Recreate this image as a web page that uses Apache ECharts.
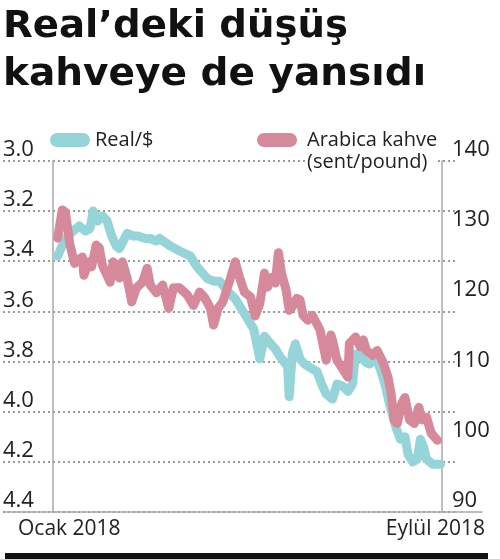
<!DOCTYPE html>
<html>
<head>
<meta charset="utf-8">
<script src="https://cdn.jsdelivr.net/npm/echarts@6/dist/echarts.min.js"></script>
<style>
html,body{margin:0;padding:0;background:#fff;}
#c{width:500px;height:559px;}
</style>
</head>
<body>
<div id="c"></div>
<script>
// Day offsets from 1 Jan 2018 and values
var realDays = [3,8,13,17,21,24,26,29,32,35,38,41,43,48,52,55,60,63,67,69,76,82,89,93,100,104,108,113,118,121,124,128,130,132,134,137,141,144,147,152,153,155,157,160,163,168,171,174,177,181,184,188,191,194,196,199,202,205,209,212,215,218,222,225,228,230,233,236,238,240,242,246,249,251];
var realVals = [3.38,3.31,3.28,3.26,3.28,3.27,3.20,3.24,3.22,3.24,3.30,3.34,3.35,3.29,3.30,3.30,3.31,3.31,3.32,3.31,3.34,3.36,3.38,3.42,3.47,3.48,3.48,3.52,3.55,3.58,3.61,3.65,3.67,3.73,3.79,3.70,3.73,3.75,3.78,3.82,3.94,3.77,3.73,3.79,3.81,3.83,3.84,3.89,3.93,3.95,3.89,3.90,3.92,3.89,3.77,3.77,3.80,3.81,3.79,3.83,3.89,3.97,4.06,4.11,4.10,4.17,4.20,4.19,4.11,4.14,4.19,4.21,4.21,4.21];
var coffeeDays = [3,6,8,11,14,19,20,23,25,28,30,32,37,39,41,43,45,48,51,54,58,61,63,67,71,75,78,82,87,91,95,98,102,104,107,110,115,118,121,124,128,131,134,137,139,142,144,146,148,151,153,155,158,160,162,165,168,173,177,180,181,184,187,191,192,196,199,201,203,207,210,214,217,219,221,223,226,228,231,234,237,239,242,245,249];
var coffeeVals = [129.0,133.0,132.7,128.0,125.4,126.3,123.7,125.6,124.9,128.0,127.6,125.1,122.7,125.6,125.1,123.3,125.6,123.3,119.9,121.9,122.7,124.7,122.3,121.2,122.3,119.0,121.9,121.9,120.9,119.4,121.3,120.6,119.0,116.6,119.0,119.9,123.3,125.6,123.3,121.3,120.6,117.9,119.7,124.0,122.0,123.4,122.6,126.9,124.0,121.6,118.7,119.2,120.4,120.2,118.0,117.3,118.0,115.9,111.6,115.2,114.5,111.6,110.6,109.2,114.0,114.9,113.5,114.5,113.0,112.3,113.0,111.2,109.2,106.9,103.1,102.6,105.5,106.3,103.1,102.6,104.9,103.1,103.5,101.2,100.2];
var leftTicks = {min: 3.0, max: 4.4, interval: 0.2};
var rightTicks = {min: 90, max: 140, interval: 10};
var periodLength = 252;
var titleLines = ['Real’deki düşüş', 'kahveye de yansıdı'];
var xLabels = ['Ocak 2018', 'Eylül 2018'];
var seriesNames = ['Real/$', 'Arabica kahve'];
var unitNote = '(sent/pound)';

var TEAL = '#95d4d9';
var PINK = '#d6899a';
var FONT = 'Open Sans';
var pill = 'path://M7,0 L33,0 A7,7 0 0 1 33,14 L7,14 A7,7 0 0 1 7,0 Z';

function zip(a, b) { return a.map(function (d, i) { return [d, b[i]]; }); }

var chart = echarts.init(document.getElementById('c'), null, {renderer: 'canvas'});
var top0 = 160.7, bot0 = 47;
chart.setOption({
  animation: false,
  backgroundColor: '#fff',
  grid: [
    {left: 53, right: 58, top: top0, bottom: bot0},   // data
    {left: 3, right: 45, top: top0, bottom: bot0},    // dotted gridlines
    {left: 5, right: 18, top: top0, bottom: bot0}     // baseline
  ],
  xAxis: [
    {gridIndex: 0, type: 'value', min: 0, max: periodLength, show: false},
    {gridIndex: 1, type: 'value', min: 0, max: 1, show: false},
    {gridIndex: 2, type: 'value', min: 0, max: 1, axisLine: {show: true, lineStyle: {color: '#a8a8a8', width: 1.5}},
      axisTick: {show: false}, axisLabel: {show: false}, splitLine: {show: false}}
  ],
  yAxis: [
    {gridIndex: 0, type: 'value', inverse: true, min: leftTicks.min, max: leftTicks.max, interval: leftTicks.interval,
      position: 'left',
      axisLine: {show: true, lineStyle: {color: '#a8a8a8', width: 1.5}},
      axisTick: {show: false}, splitLine: {show: false},
      axisLabel: {align: 'left', margin: 50, verticalAlign: 'bottom', color: '#222', fontSize: 22, fontFamily: FONT,
        lineHeight: 22, formatter: function (v) { return v.toFixed(1); }}},
    {gridIndex: 0, type: 'value', min: rightTicks.min, max: rightTicks.max, interval: rightTicks.interval,
      position: 'right',
      axisLine: {show: true, lineStyle: {color: '#a8a8a8', width: 1.5}},
      axisTick: {show: false}, splitLine: {show: false},
      axisLabel: {align: 'left', margin: 10, verticalAlign: 'bottom', color: '#222', fontSize: 22, fontFamily: FONT, lineHeight: 22}},
    {gridIndex: 1, type: 'value', inverse: true, min: leftTicks.min, max: leftTicks.max, interval: leftTicks.interval,
      axisLine: {show: false}, axisTick: {show: false}, axisLabel: {show: false},
      splitLine: {show: true, lineStyle: {color: '#9a9a9a', width: 2, type: [2, 3]}}},
    {gridIndex: 2, type: 'value', show: false}
  ],
  legend: [
    {data: [seriesNames[0]], left: 50, top: 128, padding: 0, itemWidth: 40, itemHeight: 14, icon: pill,
      textStyle: {fontSize: 20, fontFamily: FONT, color: '#222', lineHeight: 24}},
    {data: [seriesNames[1]], left: 257, top: 128, padding: 0, itemWidth: 40, itemHeight: 14, icon: pill,
      textStyle: {fontSize: 20, fontFamily: FONT, color: '#222', lineHeight: 24, padding: [0, 0, 0, 5]}}
  ],
  series: [
    {name: seriesNames[0], type: 'line', xAxisIndex: 0, yAxisIndex: 0, data: zip(realDays, realVals),
      symbol: 'none', color: TEAL, lineStyle: {width: 9, color: TEAL, cap: 'round', join: 'round'}, z: 3},
    {name: seriesNames[1], type: 'line', xAxisIndex: 0, yAxisIndex: 1, data: zip(coffeeDays, coffeeVals),
      symbol: 'none', color: PINK, lineStyle: {width: 9, color: PINK, cap: 'round', join: 'round'}, z: 4}
  ],
  graphic: [
    {type: 'text', left: 3, top: 9, scaleX: 1.045, style: {text: titleLines[0], font: 'bold 37px "DejaVu Sans"', fill: '#111'}},
    {type: 'text', left: 3, top: 57, scaleX: 1.055, style: {text: titleLines[1], font: 'bold 37px "DejaVu Sans"', fill: '#111'}},
    {type: 'text', left: 305, top: 152, z: 100, style: {text: unitNote, font: '20px "Open Sans"', fill: '#222',
      backgroundColor: '#fff', padding: [0, 10, 0, 2]}},
    {type: 'text', left: 18, top: 519, style: {text: xLabels[0], font: '21px "Open Sans"', fill: '#222'}},
    {type: 'text', right: 15, top: 519, style: {text: xLabels[1], font: '21px "Open Sans"', fill: '#222'}},
    {type: 'rect', left: 5, top: 553, shape: {width: 483, height: 6}, style: {fill: '#111'}}
  ]
});
</script>
</body>
</html>
